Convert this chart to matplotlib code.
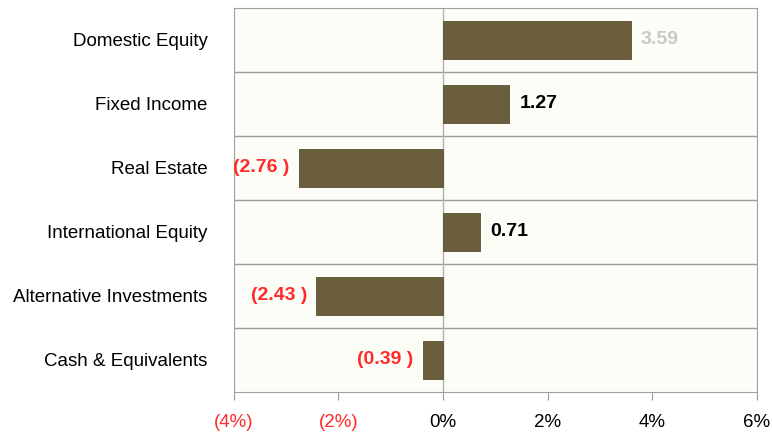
import numpy as np
import matplotlib.pyplot as plt

plt.rcParams['font.family'] = ['Liberation Sans', 'DejaVu Sans']

# Daten
categories = ["Domestic Equity", "Fixed Income", "Real Estate",
              "International Equity", "Alternative Investments", "Cash & Equivalents"]
values = [3.59, 1.27, -2.76, 0.71, -2.43, -0.39]
tick_vals = [-4, -2, 0, 2, 4, 6]
tick_labels = ["(4%)", "(2%)", "0%", "2%", "4%", "6%"]

fig = plt.figure(figsize=(7.72, 4.34), dpi=100)
ax = fig.add_axes([0.303, 0.097, 0.677, 0.885])
ax.set_facecolor('#fdfdf7')

y = np.arange(len(categories))
ax.barh(y, values, height=0.6, color='#6b5e3c', edgecolor='#5a4f32', linewidth=0.6, zorder=3)

ax.set_xlim(-4, 6)
ax.set_ylim(len(categories) - 0.5, -0.5)

# Trennlinien zwischen den Zeilen
for k in range(1, len(categories)):
    ax.axhline(k - 0.5, color='#9a9a9a', lw=1.0, zorder=1)
ax.axvline(0, color='#b0b0b0', lw=1.0, zorder=2)

# Beschriftung der Balken
for i, v in enumerate(values):
    if v >= 0:
        col = '#c8c8c8' if i == 0 else 'black'
        ax.text(v + 0.19, i, f"{v:.2f}", va='center', ha='left', fontsize=14,
                fontweight='bold', color=col)
    else:
        ax.text(v - 0.17, i, f"({abs(v):.2f} )", va='center', ha='right', fontsize=14,
                fontweight='bold', color='#ff2a2a')

ax.set_yticks(y)
ax.set_yticklabels(categories, fontsize=13.5)
ax.tick_params(axis='y', length=0, pad=19)

ax.set_xticks(tick_vals)
ax.set_xticklabels(tick_labels, fontsize=13.5)
ax.tick_params(axis='x', length=6, color='#999999', pad=10)
for lbl, v in zip(ax.get_xticklabels(), tick_vals):
    lbl.set_color('#ff2a2a' if v < 0 else 'black')

for s in ax.spines.values():
    s.set_color('#a0a0a0')

fig.savefig('out.png', dpi=100)
